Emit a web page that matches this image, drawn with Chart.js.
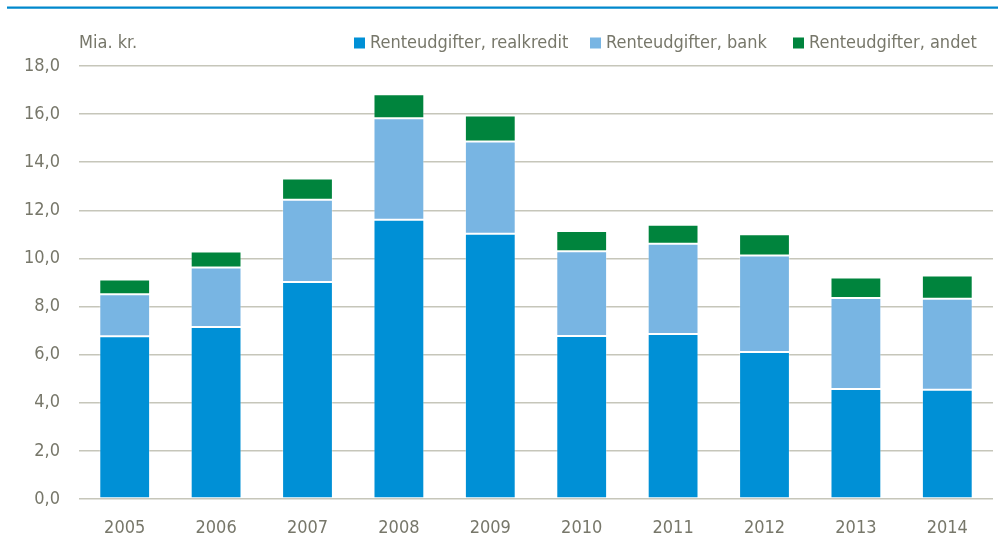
<!DOCTYPE html>
<html>
<head>
<meta charset="utf-8">
<script src="https://cdn.jsdelivr.net/npm/chart.js@4/dist/chart.umd.min.js"></script>
<style>
  html, body { margin: 0; padding: 0; background: #fff; }
  #wrap { width: 998px; height: 542px; position: relative; }
</style>
</head>
<body>
<div id="wrap"><canvas id="chart"></canvas></div>
<script>
// aarstal og renteudgifter (mia. kr.)
const aar = ['2005', '2006', '2007', '2008', '2009', '2010', '2011', '2012', '2013', '2014'];
const realkredit = [6.77, 7.15, 9.02, 11.61, 11.03, 6.78, 6.86, 6.11, 4.57, 4.54];
const bank = [1.74, 2.47, 3.42, 4.22, 3.83, 3.52, 3.75, 4.01, 3.79, 3.78];
const andet = [0.61, 0.67, 0.88, 1.00, 1.08, 0.84, 0.79, 0.89, 0.85, 0.97];
const yTicks = [0, 2, 4, 6, 8, 10, 12, 14, 16, 18];

const FONT = "'DejaVu Sans Condensed', 'Liberation Sans Narrow', sans-serif";
const GRAA = '#77776a';

// blaa streg i toppen + enhed + forklaring
const legendX = [354, 590, 793];
const pynt = {
  id: 'pynt',
  afterDraw(chart) {
    const ctx = chart.ctx;
    ctx.save();
    ctx.strokeStyle = '#0088cc';
    ctx.lineWidth = 2.2;
    ctx.beginPath();
    ctx.moveTo(7, 7.7);
    ctx.lineTo(998, 7.7);
    ctx.stroke();

    ctx.font = '18px ' + FONT;
    ctx.fillStyle = GRAA;
    ctx.textBaseline = 'middle';
    ctx.fillText('Mia. kr.', 79, 43);

    chart.data.datasets.forEach((ds, i) => {
      const x = legendX[i];
      ctx.fillStyle = ds.backgroundColor;
      ctx.fillRect(x, 37.5, 11, 11);
      ctx.fillStyle = GRAA;
      ctx.fillText(ds.label, x + 16, 43);
    });
    ctx.restore();
  }
};

new Chart(document.getElementById('chart'), {
  type: 'bar',
  data: {
    labels: aar,
    datasets: [
      { label: 'Renteudgifter, realkredit', data: realkredit, backgroundColor: '#0090d6' },
      { label: 'Renteudgifter, bank', data: bank, backgroundColor: '#78b5e3' },
      { label: 'Renteudgifter, andet', data: andet, backgroundColor: '#00843d' }
    ]
  },
  options: {
    responsive: true,
    maintainAspectRatio: false,
    animation: false,
    layout: { padding: { top: 66, right: 5, left: 0, bottom: 0 } },
    datasets: {
      bar: {
        categoryPercentage: 1,
        barPercentage: 0.556,
        borderWidth: 1,
        borderColor: 'rgba(255,255,255,0.3)',
        borderSkipped: false
      }
    },
    plugins: {
      legend: { display: false },
      tooltip: { enabled: false }
    },
    scales: {
      x: {
        stacked: true,
        grid: { display: false },
        border: { display: false },
        ticks: { color: GRAA, font: { family: FONT, size: 18 }, padding: 11 },
        afterFit(scale) { scale.height = 43; }
      },
      y: {
        stacked: true,
        min: 0,
        max: 18,
        afterBuildTicks(scale) { scale.ticks = yTicks.map(v => ({ value: v })); },
        grid: { color: '#c6c6ba', lineWidth: 1.6, drawTicks: false },
        border: { display: false },
        ticks: {
          color: GRAA,
          font: { family: FONT, size: 18 },
          padding: 19,
          callback: v => v.toFixed(1).replace('.', ',')
        },
        afterFit(scale) { scale.width = 79; }
      }
    }
  },
  plugins: [pynt]
});
</script>
</body>
</html>
